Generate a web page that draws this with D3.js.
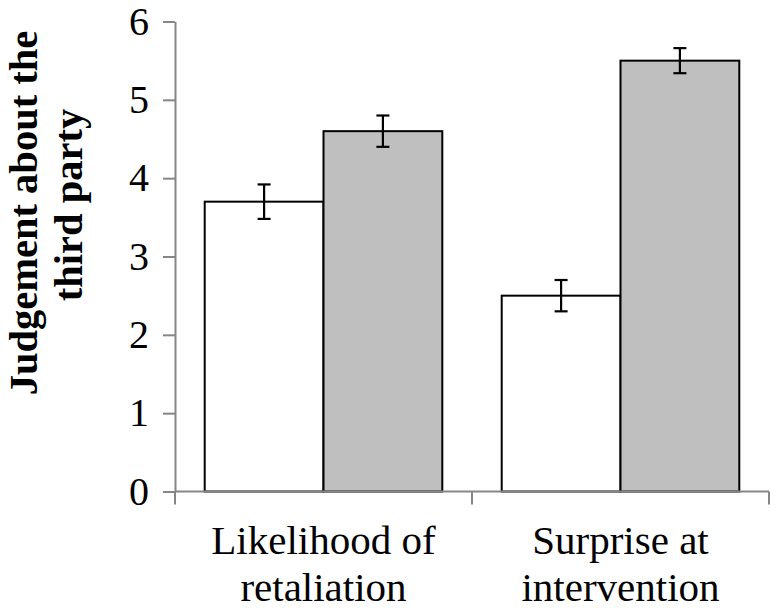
<!DOCTYPE html>
<html>
<head>
<meta charset="utf-8">
<script src="https://cdn.jsdelivr.net/npm/d3@7"></script>
<style>
  html, body { margin: 0; padding: 0; background: #fff; }
  svg { display: block; }
  text { font-family: "Liberation Serif", "Times New Roman", serif; fill: #000; }
</style>
</head>
<body>
<svg id="chart" width="777" height="611"></svg>
<script>
const categories = [["Likelihood of", "retaliation"], ["Surprise at", "intervention"]];
const categoryKeys = ["Likelihood of retaliation", "Surprise at intervention"];
const series = ["Condition A", "Condition B"];
const seriesFill = ["#ffffff", "#bfbfbf"];
const valuesA = [3.70, 2.50];
const valuesB = [4.60, 5.50];
const errorsA = [0.22, 0.20];
const errorsB = [0.20, 0.16];
const yTicks = [0, 1, 2, 3, 4, 5, 6];
const yTitle = ["Judgement about the", "third party"];

const svg = d3.select("#chart");
const axisColor = "#868686";
const plotLeft = 175, plotRight = 769, plotTop = 21.5, plotBottom = 491.5;

const y = d3.scaleLinear().domain([0, 6]).range([plotBottom, plotTop]);
const x0 = d3.scaleBand().domain(categoryKeys).range([plotLeft, plotRight]).paddingInner(0).paddingOuter(0);
const bw = x0.bandwidth();
const gap = bw * 0.1;
const x1 = d3.scaleBand().domain(series).range([gap, bw - gap]).padding(0);

const data = categoryKeys.map((c, i) => ({
  cat: c,
  vals: [
    { s: series[0], v: valuesA[i], e: errorsA[i], fill: seriesFill[0] },
    { s: series[1], v: valuesB[i], e: errorsB[i], fill: seriesFill[1] }
  ]
}));

// Bars
const groups = svg.append("g").selectAll("g").data(data).join("g")
  .attr("transform", d => `translate(${x0(d.cat)},0)`);

groups.selectAll("rect").data(d => d.vals).join("rect")
  .attr("x", d => x1(d.s))
  .attr("y", d => y(d.v))
  .attr("width", x1.bandwidth())
  .attr("height", d => y(0) - y(d.v))
  .attr("fill", d => d.fill)
  .attr("stroke", "#000")
  .attr("stroke-width", 2);

// Error bars
const cap = 6.5;
const eb = groups.selectAll("g.err").data(d => d.vals).join("g").attr("class", "err")
  .attr("stroke", "#000").attr("stroke-width", 2.2);
eb.append("line")
  .attr("x1", d => x1(d.s) + x1.bandwidth() / 2)
  .attr("x2", d => x1(d.s) + x1.bandwidth() / 2)
  .attr("y1", d => y(d.v + d.e))
  .attr("y2", d => y(d.v - d.e));
eb.append("line")
  .attr("x1", d => x1(d.s) + x1.bandwidth() / 2 - cap)
  .attr("x2", d => x1(d.s) + x1.bandwidth() / 2 + cap)
  .attr("y1", d => y(d.v + d.e))
  .attr("y2", d => y(d.v + d.e));
eb.append("line")
  .attr("x1", d => x1(d.s) + x1.bandwidth() / 2 - cap)
  .attr("x2", d => x1(d.s) + x1.bandwidth() / 2 + cap)
  .attr("y1", d => y(d.v - d.e))
  .attr("y2", d => y(d.v - d.e));

// Y axis
const yAxis = d3.axisLeft(y).tickValues(yTicks).tickFormat(d3.format("d"))
  .tickSize(12).tickSizeOuter(0).tickPadding(14);
const gy = svg.append("g").attr("transform", `translate(${plotLeft},0)`).call(yAxis);
gy.select(".domain").attr("stroke", axisColor).attr("stroke-width", 2);
gy.selectAll(".tick line").attr("stroke", axisColor).attr("stroke-width", 2);
gy.selectAll(".tick text")
  .attr("font-family", "Liberation Serif, Times New Roman, serif")
  .attr("font-size", 40)
  .attr("fill", "#000");

// X axis
const xAxisLine = svg.append("g");
xAxisLine.append("line")
  .attr("x1", plotLeft).attr("x2", plotRight).attr("y1", y(0)).attr("y2", y(0))
  .attr("stroke", axisColor).attr("stroke-width", 2);
const xTickPos = [plotLeft].concat(categoryKeys.map(c => x0(c) + bw));
xAxisLine.selectAll("line.xt").data(xTickPos).join("line").attr("class", "xt")
  .attr("x1", d => d).attr("x2", d => d)
  .attr("y1", y(0)).attr("y2", y(0) + 13)
  .attr("stroke", axisColor).attr("stroke-width", 2);

// Category labels
const catLabels = svg.append("g").selectAll("text").data(categoryKeys).join("text")
  .attr("x", d => x0(d) + bw / 2)
  .attr("text-anchor", "middle")
  .attr("font-size", 41);
catLabels.each(function(d, i) {
  const t = d3.select(this);
  categories[i].forEach((line, j) => {
    t.append("tspan").attr("x", x0(d) + bw / 2).attr("y", 554 + j * 47).text(line);
  });
});

// Y title
const title = svg.append("text")
  .attr("transform", `translate(0,${213}) rotate(-90)`)
  .attr("text-anchor", "middle")
  .attr("font-size", 40.5)
  .attr("font-weight", "bold");
yTitle.forEach((line, j) => {
  title.append("tspan").attr("x", j * 8).attr("y", 37 + j * 45).text(line);
});
</script>
</body>
</html>
